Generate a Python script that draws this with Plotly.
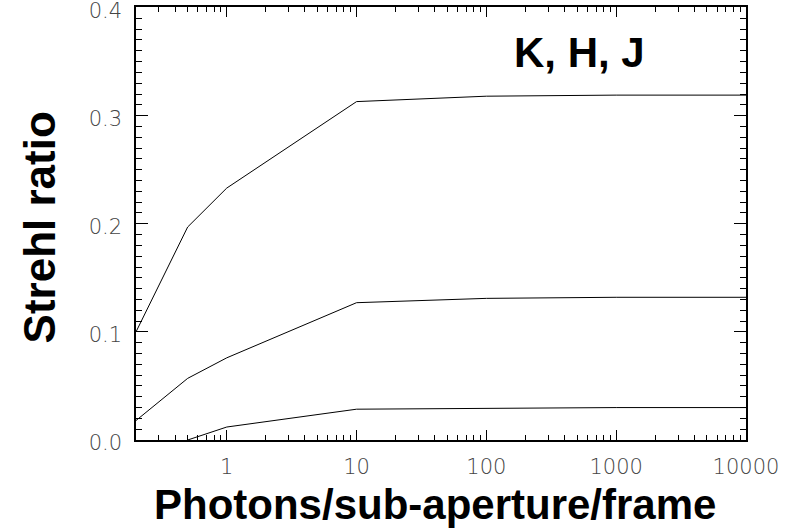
import numpy as np
import plotly.graph_objects as go

# Data
photons = [0.2, 0.5, 1, 10, 100, 1000, 10000]
strehl_K = [0.100, 0.197, 0.233, 0.313, 0.318, 0.319, 0.319]
strehl_H = [0.018, 0.057, 0.076, 0.127, 0.131, 0.132, 0.132]
photons_J = [0.5, 1, 10, 100, 1000, 10000]
strehl_J = [0.000, 0.012, 0.0285, 0.0295, 0.030, 0.030]

x_major = [1, 10, 100, 1000, 10000]
x_major_text = ["1", "10", "100", "1000", "10000"]
x_minor = [m * 10.0 ** e for e in range(-1, 4) for m in range(2, 10) if m * 10.0 ** e > 0.2]
y_major = [0.0, 0.1, 0.2, 0.3, 0.4]
y_major_text = ["0.0", "0.1", "0.2", "0.3", "0.4"]

fig = go.Figure()
for xs, ys in [(photons, strehl_K), (photons, strehl_H), (photons_J, strehl_J)]:
    fig.add_trace(go.Scatter(x=xs, y=ys, mode="lines",
                             line=dict(color="black", width=1), showlegend=False))

tickfont = dict(family="DejaVu Sans", size=21, color="#444", weight=200)

fig.update_xaxes(type="log", range=[np.log10(0.2), 4.0],
                 tickmode="array", tickvals=x_major, ticktext=x_major_text,
                 ticks="inside", ticklen=10, tickwidth=1, tickcolor="black",
                 minor=dict(tickmode="array", tickvals=x_minor, ticks="inside",
                            ticklen=5, tickwidth=1, tickcolor="black"),
                 showline=True, linecolor="black", linewidth=1.5, mirror="allticks",
                 showgrid=False, zeroline=False, tickfont=tickfont,
                 ticklabelstandoff=7, ticklabeloverflow="allow", automargin=False)
fig.update_yaxes(range=[0, 0.4005],
                 tickmode="array", tickvals=y_major, ticktext=y_major_text,
                 ticks="inside", ticklen=12, tickwidth=1, tickcolor="black",
                 minor=dict(dtick=0.01, ticks="inside", ticklen=6,
                            tickwidth=1, tickcolor="black"),
                 showline=True, linecolor="black", linewidth=1.5, mirror="allticks",
                 showgrid=False, zeroline=False, tickfont=tickfont,
                 ticklabelstandoff=8, ticklabelshift=3, ticklabeloverflow="allow",
                 automargin=False)

titlefont = dict(family="Liberation Sans, Arial", size=42, color="black", weight="bold")
fig.add_annotation(text="Photons/sub-aperture/frame", xref="paper", yref="paper",
                   x=0.49, y=-0.148, xanchor="center", yanchor="middle",
                   showarrow=False, font=titlefont)
fig.add_annotation(text="Strehl ratio", xref="paper", yref="paper",
                   x=-0.158, y=0.49, xanchor="center", yanchor="middle",
                   textangle=-90, showarrow=False,
                   font=dict(family="Liberation Sans, Arial", size=44, color="black", weight="bold"))
fig.add_annotation(text="K, H, J", xref="paper", yref="paper",
                   x=0.727, y=0.895, xanchor="center", yanchor="middle",
                   showarrow=False, font=titlefont)

fig.update_layout(width=802, height=532,
                  margin=dict(l=136, r=56, t=7, b=92),
                  paper_bgcolor="white", plot_bgcolor="white")

fig.write_html("out.html")
